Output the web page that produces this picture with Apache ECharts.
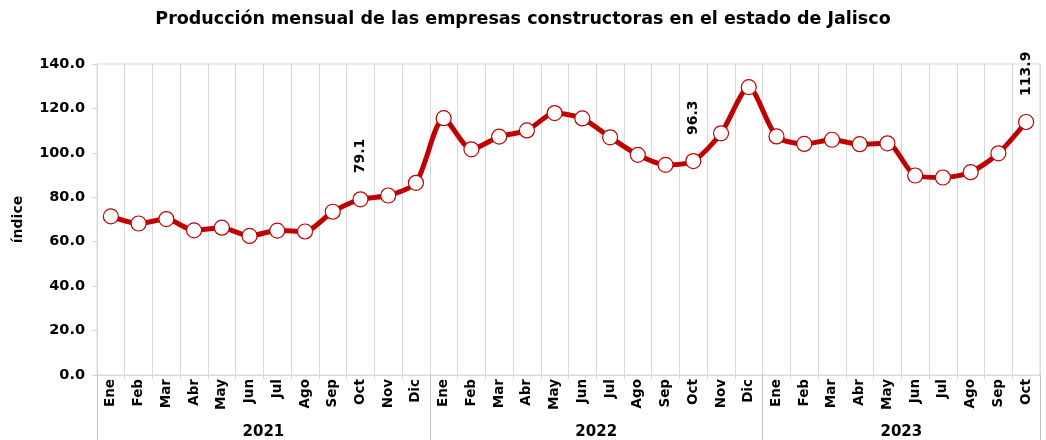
<!DOCTYPE html>
<html>
<head>
<meta charset="utf-8">
<script src="https://cdn.jsdelivr.net/npm/echarts@6/dist/echarts.min.js"></script>
<style>
  html, body { margin: 0; padding: 0; background: #fff; }
  #main { width: 1046px; height: 440px; }
</style>
</head>
<body>
<div id="main"></div>
<script>
// meses y años
const meses = ['Ene','Feb','Mar','Abr','May','Jun','Jul','Ago','Sep','Oct','Nov','Dic'];
const anios = ['2021', '2022', '2023'];
const mesesPorAnio = [12, 12, 10];

// índice de producción mensual
const valores2021 = [71.4, 68.2, 70.2, 65.1, 66.3, 62.6, 65.0, 64.6, 73.5, 79.1, 80.8, 86.5];
const valores2022 = [115.6, 101.6, 107.3, 110.1, 117.9, 115.5, 107.0, 99.1, 94.6, 96.3, 108.8, 129.6];
const valores2023 = [107.4, 104.0, 105.9, 103.9, 104.3, 89.8, 88.9, 91.3, 99.8, 113.9];

// meses con etiqueta
const etiquetados = [9, 21, 33];

const categorias = [];
mesesPorAnio.forEach((n) => {
  for (let i = 0; i < n; i++) categorias.push(meses[i]);
});
const valores = valores2021.concat(valores2022, valores2023);

// eje de años: medio mes por posición
const mitades = [];
const cortes = [0];
const centros = {};
let acum = 0;
mesesPorAnio.forEach((n, k) => {
  centros[(acum * 2) + n] = anios[k];
  acum += n;
  cortes.push(acum * 2);
});
for (let i = 0; i <= categorias.length * 2; i++) mitades.push(centros[i] || '');

const fuente = 'DejaVu Sans';

const chart = echarts.init(document.getElementById('main'));

const option = {
  animation: false,
  title: {
    text: 'Producción mensual de las empresas constructoras en el estado de Jalisco',
    left: 'center',
    top: 5,
    textStyle: { fontFamily: fuente, fontWeight: 'bold', fontSize: 17.5, color: '#000' }
  },
  grid: {
    left: 97, right: 6, top: 64, bottom: 65,
    show: true, borderColor: '#d9d9d9', borderWidth: 1
  },
  xAxis: [
    {
      type: 'category',
      data: categorias,
      boundaryGap: true,
      axisLine: { lineStyle: { color: '#d9d9d9', width: 1 } },
      axisTick: { show: true, interval: 0, length: 4, lineStyle: { color: '#d9d9d9' } },
      splitLine: { show: true, interval: 0, lineStyle: { color: '#d9d9d9', width: 1 } },
      axisLabel: {
        interval: 0, rotate: 90, margin: 4,
        fontFamily: fuente, fontWeight: 'bold', fontSize: 13.5, color: '#000'
      }
    },
    {
      type: 'category',
      position: 'bottom',
      data: mitades,
      boundaryGap: false,
      axisLine: { show: false },
      axisTick: {
        show: true, length: 66,
        interval: (i) => cortes.indexOf(i) !== -1,
        lineStyle: { color: '#bfbfbf' }
      },
      splitLine: { show: false },
      axisLabel: {
        interval: 0, margin: 50,
        fontFamily: fuente, fontWeight: 'bold', fontSize: 15, color: '#000'
      }
    }
  ],
  yAxis: {
    type: 'value',
    min: 0, max: 140, interval: 20,
    name: 'índice',
    nameLocation: 'middle',
    nameGap: 72,
    nameTextStyle: { fontFamily: fuente, fontWeight: 'bold', fontSize: 14, color: '#000' },
    axisLine: { show: true, lineStyle: { color: '#d9d9d9' } },
    axisTick: { show: true, length: 5, lineStyle: { color: '#d9d9d9' } },
    splitLine: { show: false },
    axisLabel: {
      margin: 12,
      formatter: (v) => v.toFixed(1),
      fontFamily: fuente, fontWeight: 'bold', fontSize: 14.5, color: '#000'
    }
  },
  series: [
    {
      type: 'line',
      data: valores.map((v, i) => etiquetados.indexOf(i) !== -1 ? {
        value: v,
        label: {
          show: true, position: 'top', rotate: 90, distance: 18,
          align: 'left', verticalAlign: 'middle',
          formatter: (p) => p.value.toFixed(1),
          fontFamily: fuente, fontWeight: 'bold', fontSize: 14, color: '#000'
        }
      } : v),
      smooth: 0.25,
      symbol: 'circle',
      symbolSize: 15,
      lineStyle: { color: '#c00000', width: 5 },
      itemStyle: { color: '#fff', borderColor: '#c00000', borderWidth: 1.2 },
      z: 3
    }
  ]
};

chart.setOption(option);
</script>
</body>
</html>
